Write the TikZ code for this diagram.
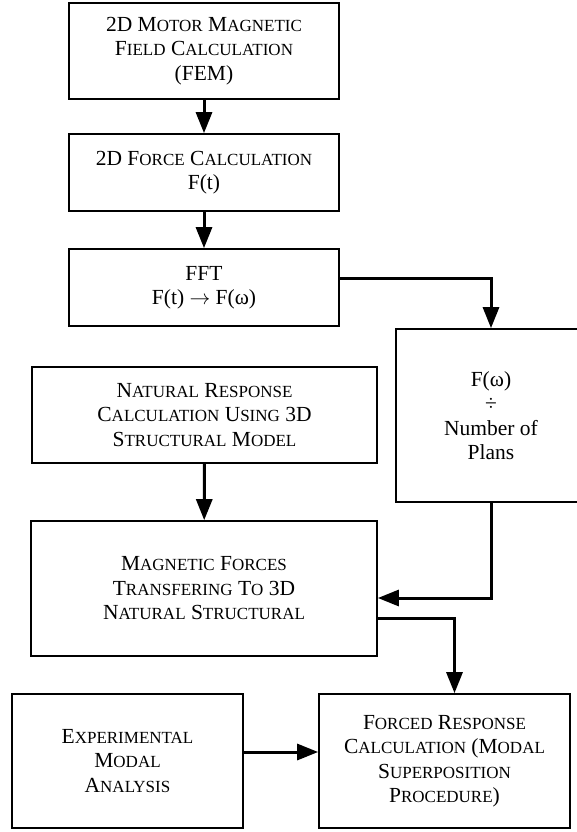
\documentclass[tikz,border=0pt]{standalone}
\usepackage{fontspec}
\setmainfont{Liberation Serif}
\usetikzlibrary{arrows.meta, positioning}
\newcommand{\sm}[1]{{\fontsize{17}{24.5}\selectfont #1}}

\begin{document}
\begin{tikzpicture}[
    x=1pt, y=-1pt,
    block/.style={rectangle, draw=black, line width=1.7pt, fill=white,
                  minimum width=#1, align=center, inner sep=0pt,
                  font=\fontsize{21.5}{24.5}\selectfont},
    block/.default=270pt,
    arrow/.style={-{Triangle[length=21pt,width=16pt]}, line width=3pt}
]
\useasboundingbox (0,0) rectangle (577,832);

% Left column
\node[block, minimum height=96pt] at (204,51) (field) {2D M\sm{OTOR} M\sm{AGNETIC}\\F\sm{IELD} C\sm{ALCULATION}\\(FEM)};
\node[block, minimum height=77pt] at (204,172.5) (force) {2D F\sm{ORCE} C\sm{ALCULATION}\\F(t)};
\node[block, minimum height=77pt] at (204,287.5) (fft) {FFT\\F(t) $\rightarrow$ F(ω)};
\node[block=345pt, minimum height=96pt] at (204.5,415) (natural) {N\sm{ATURAL} R\sm{ESPONSE}\\C\sm{ALCULATION} U\sm{SING} 3D\\S\sm{TRUCTURAL} M\sm{ODEL}};
\node[block=346pt, minimum height=135pt] at (204,588.5) (transfer) {M\sm{AGNETIC} F\sm{ORCES}\\T\sm{RANSFERING} T\sm{O} 3D\\N\sm{ATURAL} S\sm{TRUCTURAL}};
\node[block=231pt, minimum height=134pt] at (127.5,761) (modal) {E\sm{XPERIMENTAL}\\M\sm{ODAL}\\A\sm{NALYSIS}};

% Right column
\node[block=190pt, minimum height=173pt] at (491,415.5) (plans) {F(ω)\\÷\\Number of\\Plans};
\node[block=251pt, minimum height=134pt] at (444.5,761) (forced) {F\sm{ORCED} R\sm{ESPONSE}\\C\sm{ALCULATION} (M\sm{ODAL}\\S\sm{UPERPOSITION}\\P\sm{ROCEDURE})};

% Connections
\draw[arrow] (field) -- (force);
\draw[arrow] (force) -- (fft);
\draw[arrow] ([yshift=9.5pt]fft.east) -| (plans.north);
\draw[arrow] (natural) -- (transfer);
\draw[arrow] (plans.south) |- ([yshift=-9.5pt]transfer.east);
\draw[arrow] ([yshift=-29.5pt]transfer.east) -| ([xshift=10pt]forced.north);
\draw[arrow] ([yshift=9pt]modal.east) -- ([yshift=9pt]forced.west);

\end{tikzpicture}
\end{document}
